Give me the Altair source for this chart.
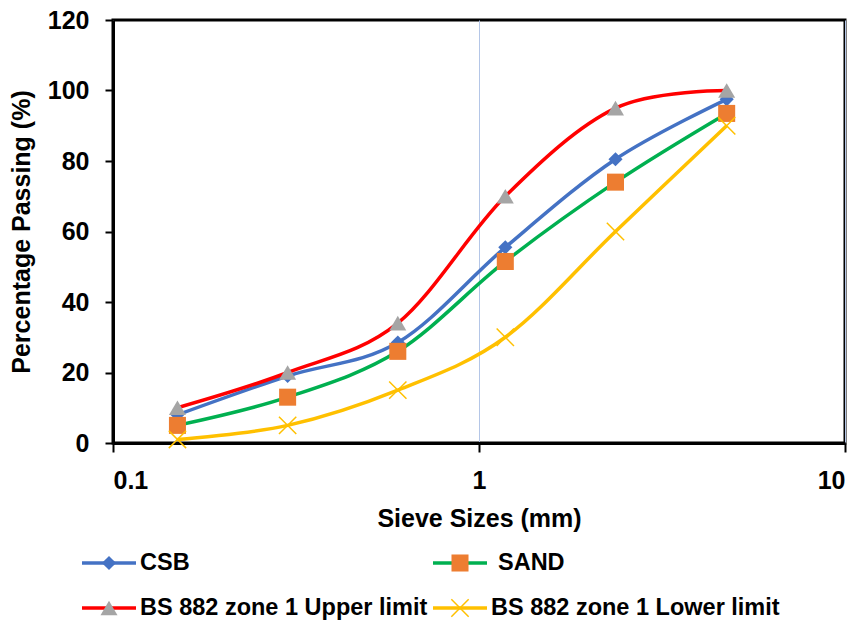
import altair as alt
import pandas as pd

# ---- data ----
sieve = [0.15, 0.3, 0.6, 1.18, 2.36, 4.75]
csb = [8, 19, 28.5, 55.5, 80.5, 97.5]
sand = [5, 13, 26, 51.5, 74, 93.5]
upper = [10, 20, 34, 70, 95, 100]
lower = [1, 5, 15, 30, 60, 90]

series_names = ["CSB", "SAND", "BS 882 zone 1 Upper limit", "BS 882 zone 1 Lower limit"]
series_values = [csb, sand, upper, lower]
line_colors = ["#4472C4", "#00B050", "#FF0000", "#FFC000"]
marker_colors = ["#4472C4", "#ED7D31", "#A5A5A5", "#FFC000"]
marker_shapes = ["diamond", "square", "triangle-up", "M-1,-1L1,1M-1,1L1,-1"]
marker_sizes = [200, 290, 290, 300]
marker_filled = [True, True, True, False]

x_ticks = [0.1, 1, 10]
y_ticks = [0, 20, 40, 60, 80, 100, 120]

legend_col = [0, 1, 0, 1]
legend_row = [0, 0, 1, 1]

FONT = "Liberation Sans"
W, H = 732, 423

rows = []
for name, vals in zip(series_names, series_values):
    for s, v in zip(sieve, vals):
        rows.append({"size": s, "value": v, "series": name})
df = pd.DataFrame(rows)

x_enc = alt.X(
    "size:Q",
    scale=alt.Scale(type="log", domain=[0.1, 10], nice=False),
    axis=alt.Axis(
        values=x_ticks, format="~g", title="Sieve Sizes (mm)",
        grid=True, gridColor="#B4C6E7", gridWidth=1,
        tickSize=9, tickWidth=2, tickColor="black",
        domainColor="black", domainWidth=3,
        labelFont=FONT, labelFontSize=25, labelFontWeight="bold", labelColor="black",
        labelPadding=16,
        titleFont=FONT, titleFontSize=25, titleFontWeight="bold", titleColor="black",
        titlePadding=13,
    ),
)
y_enc = alt.Y(
    "value:Q",
    scale=alt.Scale(domain=[0, 120], nice=False),
    axis=alt.Axis(
        values=y_ticks, title="Percentage Passing (%)", grid=False,
        tickSize=8, tickWidth=2, tickColor="black",
        domainColor="black", domainWidth=3,
        labelFont=FONT, labelFontSize=25, labelFontWeight="bold", labelColor="black",
        labelPadding=16,
        titleFont=FONT, titleFontSize=25, titleFontWeight="bold", titleColor="black",
        titlePadding=13,
    ),
)

base = alt.Chart(df)
main_layers = []
for i, name in enumerate(series_names):
    sub = base.transform_filter(alt.datum.series == name)
    main_layers.append(
        sub.mark_line(interpolate="cardinal", tension=0, color=line_colors[i], strokeWidth=3.5)
        .encode(x=x_enc, y=y_enc)
    )
    if marker_filled[i]:
        pts = sub.mark_point(shape=marker_shapes[i], filled=True, color=marker_colors[i],
                             size=marker_sizes[i], opacity=1)
    else:
        pts = sub.mark_point(shape=marker_shapes[i], filled=False, color=marker_colors[i],
                             size=marker_sizes[i], opacity=1, strokeWidth=1.5)
    main_layers.append(pts.encode(x=x_enc, y=y_enc))
main = alt.layer(*main_layers)

# ---- legend (pixel-unit independent scales, placed below the plot) ----
col_x0 = [-31, 320]
col_len = 54
text_gap = [4, 11]
row_y = [543, 588]
leg_rows = []
for i, name in enumerate(series_names):
    c, r = legend_col[i], legend_row[i]
    x0 = col_x0[c]
    leg_rows.append({
        "series": name, "x0": x0, "x1": x0 + col_len, "xm": x0 + col_len / 2,
        "xt": x0 + col_len + (text_gap[c] if not (c == 1 and r == 1) else 4),
        "y": row_y[r],
    })
leg = pd.DataFrame(leg_rows)
lx = alt.Scale(domain=[0, W], nice=False, zero=False)
ly = alt.Scale(domain=[0, H], nice=False, zero=False, reverse=True)
lbase = alt.Chart(leg)
legend_layers = []
for i, name in enumerate(series_names):
    sub = lbase.transform_filter(alt.datum.series == name)
    legend_layers.append(
        sub.mark_rule(color=line_colors[i], strokeWidth=3.5).encode(
            x=alt.X("x0:Q", scale=lx, axis=None), x2="x1:Q",
            y=alt.Y("y:Q", scale=ly, axis=None))
    )
    if marker_filled[i]:
        pts = sub.mark_point(shape=marker_shapes[i], filled=True, color=marker_colors[i],
                             size=marker_sizes[i], opacity=1)
    else:
        pts = sub.mark_point(shape=marker_shapes[i], filled=False, color=marker_colors[i],
                             size=marker_sizes[i], opacity=1, strokeWidth=1.5)
    legend_layers.append(pts.encode(x=alt.X("xm:Q", scale=lx, axis=None),
                                    y=alt.Y("y:Q", scale=ly, axis=None)))
    legend_layers.append(
        sub.mark_text(align="left", baseline="middle", font=FONT, fontSize=23.5,
                      fontWeight="bold", color="black").encode(
            x=alt.X("xt:Q", scale=lx, axis=None), y=alt.Y("y:Q", scale=ly, axis=None),
            text="series:N")
    )
legend = alt.layer(*legend_layers)

chart = (
    alt.layer(main, legend)
    .resolve_scale(x="independent", y="independent")
    .properties(
        width=W, height=H,
        autosize=alt.AutoSizeParams(type="none"),
        padding={"left": 113, "top": 20, "right": 17, "bottom": 178},
        background="white",
    )
    .configure_view(stroke="black", strokeWidth=3)
)

chart.save("out.html", embed_options={"renderer": "svg", "actions": False})
